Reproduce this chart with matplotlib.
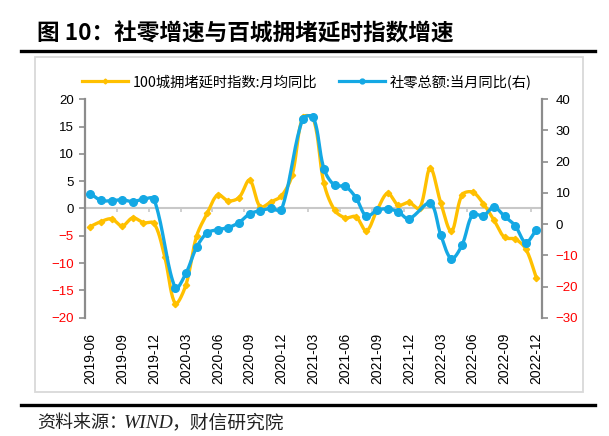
import numpy as np
import pandas as pd
import matplotlib
matplotlib.use("Agg")
import matplotlib.pyplot as plt
from matplotlib.lines import Line2D
from matplotlib.patches import Rectangle

plt.rcParams['font.family'] = ['Noto Sans CJK SC', 'DejaVu Sans']

# ---------------- data ----------------
months = [p.strftime('%Y-%m') for p in pd.period_range('2019-06', '2022-12', freq='M')]
congestion_yoy = [-3.3, -2.4, -1.9, -3.2, -1.7, -2.6, -2.7, -8.8, -17.4, -14.0,
                  -5.1, -0.9, 2.5, 1.4, 2.0, 5.2, 0.3, 1.2, 2.3, 6.1,
                  16.7, 16.5, 4.6, -0.3, -1.7, -1.5, -4.1, -0.3, 2.8, 0.6,
                  1.1, 0.0, 7.4, 1.0, -4.2, 2.5, 3.0, 0.9, -2.1, -5.3,
                  -5.6, -7.4, -12.7]
retail_yoy = [9.8, 7.6, 7.5, 7.8, 7.2, 8.0, 8.0, None, -20.5, -15.8,
              -7.5, -2.8, -1.8, -1.1, 0.5, 3.3, 4.3, 5.0, 4.6, None,
              33.8, 34.2, 17.7, 12.4, 12.1, 8.5, 2.5, 4.4, 4.9, 3.9,
              1.7, None, 6.7, -3.5, -11.1, -6.7, 3.1, 2.7, 5.4, 2.5,
              -0.5, -5.9, -1.8]
label_names = ['100城拥堵延时指数:月均同比', '社零总额:当月同比(右)']
left_ticks = [-20, -15, -10, -5, 0, 5, 10, 15, 20]
right_ticks = [-30, -20, -10, 0, 10, 20, 30, 40]

YELLOW = '#FFC000'
BLUE = '#14A8E4'
GRAY = '#8C8C8C'

W, H = 609, 436
left, right, top, bottom = 85, 541.7, 99.3, 317.7
n_cat = len(months)
px_per_cat = (right - left) / n_cat


def smooth(xs, ys, kx, ky, n=20):
    """Excel-like smoothing: Bezier segments, tangents weighted by screen segment lengths."""
    P = np.column_stack([np.asarray(xs, float) * kx, np.asarray(ys, float) * ky])
    m = len(P)
    out = []
    for i in range(m - 1):
        p0 = P[i - 1] if i > 0 else P[i]
        p1, p2 = P[i], P[i + 1]
        p3 = P[i + 2] if i + 2 < m else P[i + 1]
        L01 = np.linalg.norm(p1 - p0)
        L12 = np.linalg.norm(p2 - p1)
        L23 = np.linalg.norm(p3 - p2)
        f1 = L12 / (L01 + L12) if (L01 + L12) > 0 else 0
        f2 = L12 / (L12 + L23) if (L12 + L23) > 0 else 0
        c1 = p1 + (p2 - p0) * f1 / 3.0
        c2 = p2 - (p3 - p1) * f2 / 3.0
        t = np.linspace(0, 1, n)[:, None]
        seg = (1 - t) ** 3 * p1 + 3 * (1 - t) ** 2 * t * c1 + 3 * (1 - t) * t ** 2 * c2 + t ** 3 * p2
        out.append(seg if i == 0 else seg[1:])
    S = np.vstack(out)
    return S[:, 0] / kx, S[:, 1] / ky


fig = plt.figure(figsize=(W / 100, H / 100), dpi=100)

# figure decorations
fig.add_artist(Rectangle((35 / W, 1 - 392 / H), (582.5 - 35) / W, (392 - 57) / H,
                         transform=fig.transFigure, fill=False, edgecolor='#D9D9D9', lw=1.3))
fig.add_artist(Line2D([21 / W, 595 / W], [1 - 51 / H, 1 - 51 / H], transform=fig.transFigure,
                      color='black', lw=2.4))
fig.add_artist(Line2D([21 / W, 595 / W], [1 - 404.5 / H, 1 - 404.5 / H], transform=fig.transFigure,
                      color='black', lw=2.4))
fig.text(37 / W, 1 - 34 / H, '图 10：社零增速与百城拥堵延时指数增速', fontsize=16.3, fontweight='bold',
         va='center', ha='left')
fig.text(37 / W, 1 - 423 / H, '资料来源：', fontsize=13, va='center', ha='left', color='#222222')
fig.text(124 / W, 1 - 423 / H, 'WIND', fontsize=14, va='center', ha='left', color='#222222',
         family='Liberation Serif', style='italic')
fig.text(172 / W, 1 - 423 / H, '，财信研究院', fontsize=13.5, va='center', ha='left', color='#222222')

# axes
ax = fig.add_axes([left / W, 1 - bottom / H, (right - left) / W, (bottom - top) / H])
ax2 = ax.twinx()

x = np.arange(n_cat)
ax.set_xlim(-0.5, n_cat - 0.5)
ax.set_ylim(-20, 20)
ax2.set_ylim(-30, 40)
ky_left = (bottom - top) / 40.0
ky_right = (bottom - top) / 70.0

# zero line and its tick marks
ax.axhline(0, color='#C8C8C8', lw=1.5, zorder=1)
bounds = np.arange(-0.5, n_cat, 3)
ax.vlines(bounds, -0.6, 0, color='#C8C8C8', lw=1.2, zorder=1)

# yellow series (left)
xs, ys = smooth(x, congestion_yoy, px_per_cat, ky_left)
ax.plot(xs, ys, color=YELLOW, lw=2.4, zorder=3, solid_capstyle='round')
ax.plot(x, congestion_yoy, ls='none', marker='D', ms=3.2, color=YELLOW, zorder=3)

# blue series (right)
bx = np.array([i for i, v in enumerate(retail_yoy) if v is not None])
by = np.array([v for v in retail_yoy if v is not None])
sx, sy = smooth(bx, by, px_per_cat, ky_right)
ax2.plot(sx, sy, color=BLUE, lw=2.4, zorder=3, solid_capstyle='round')
ax2.plot(bx, by, ls='none', marker='o', ms=5.5, color=BLUE, zorder=4)

# spines
for a in (ax, ax2):
    for s in ('top', 'bottom'):
        a.spines[s].set_visible(False)
ax.spines['right'].set_visible(False)
ax2.spines['left'].set_visible(False)
ax.spines['left'].set_color(GRAY)
ax.spines['left'].set_linewidth(1.6)
ax2.spines['right'].set_color(GRAY)
ax2.spines['right'].set_linewidth(1.6)

ax.set_yticks(left_ticks)
ax2.set_yticks(right_ticks)
ax.tick_params(axis='y', direction='out', length=4, width=1.2, color=GRAY, labelsize=9.5, pad=4)
ax2.tick_params(axis='y', direction='out', length=4, width=1.2, color=GRAY, labelsize=9.5, pad=6)
for lbl, v in zip(ax.get_yticklabels(), left_ticks):
    lbl.set_color('#FF0000' if v < 0 else 'black')
    lbl.set_family(['Liberation Sans'])
for lbl, v in zip(ax2.get_yticklabels(), right_ticks):
    lbl.set_color('#FF0000' if v < 0 else 'black')
    lbl.set_family(['Liberation Sans'])

ax.set_xticks(x[::3])
ax.set_xticklabels(months[::3], rotation=90, fontsize=10, family=['Liberation Sans'])
ax.tick_params(axis='x', length=0, pad=11)

# legend
handles = [Line2D([], [], color=YELLOW, lw=2.3, marker='D', ms=2.5),
           Line2D([], [], color=BLUE, lw=2.3, marker='o', ms=3.5)]
fig.legend(handles, label_names, loc='center left', bbox_to_anchor=(82 / W, 1 - 82 / H),
           ncol=2, frameon=False, fontsize=10.3, handlelength=3.2, handletextpad=0.35,
           columnspacing=1.5, borderpad=0, borderaxespad=0)

fig.savefig('out.png', dpi=100)
